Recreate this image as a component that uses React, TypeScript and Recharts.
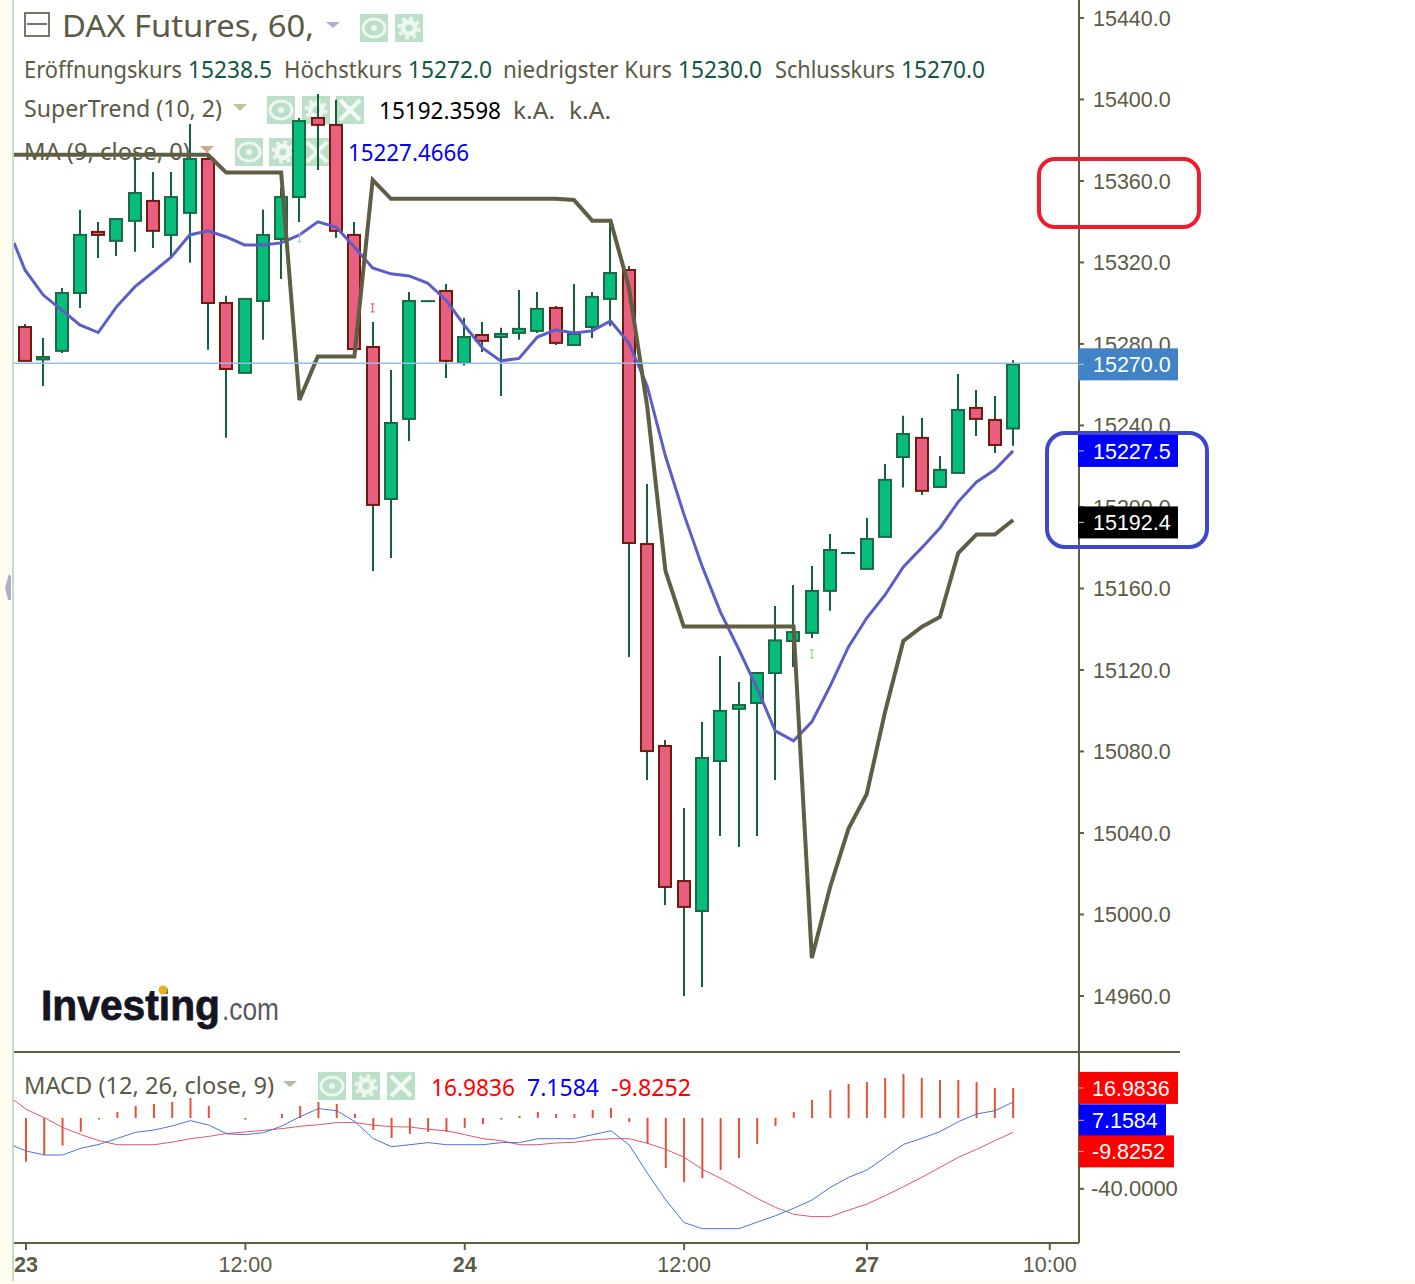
import {
  Bar,
  ComposedChart,
  Line,
  ReferenceDot,
  ReferenceLine,
  XAxis,
  YAxis,
} from "recharts";

// ohlc, one entry per hourly candle
const opens = [15288.3, 15272.4, 15276.6, 15305, 15335, 15330.6, 15340.4, 15350.2, 15333.5, 15344.3, 15370.8, 15300.1, 15265.8, 15301.1, 15331.5, 15352.1, 15390.9, 15387.5, 15333.5, 15278.5, 15203.9, 15243.2, 15301, 15306, 15270.7, 15284.4, 15283.4, 15285.4, 15286.4, 15297.7, 15279.5, 15288.3, 15302.1, 15316.3, 15181.8, 15082.7, 15016.4, 15001.7, 15075.3, 15100.9, 15103.8, 15118.5, 15134.2, 15138.2, 15158.8, 15177.4, 15169.6, 15185.3, 15224.5, 15233.9, 15209.8, 15216.7, 15248.6, 15242.7, 15238.5];
const closes = [15271.7, 15273.6, 15305, 15333.5, 15333.5, 15341.3, 15354.1, 15335.5, 15352.1, 15370.8, 15300.1, 15267.7, 15302.1, 15333.5, 15352.1, 15389.4, 15387.5, 15335.5, 15277.5, 15201, 15241.2, 15301.1, 15301, 15271.7, 15283.4, 15281.5, 15284.9, 15287.4, 15297.2, 15280.5, 15284.9, 15303.1, 15314.8, 15182.3, 15080.2, 15013.5, 15003.7, 15076.8, 15099.9, 15102.8, 15118.5, 15134.5, 15138.6, 15158.8, 15178.9, 15177.4, 15184.3, 15213.3, 15235.8, 15207.9, 15218.2, 15247.6, 15243.2, 15230.4, 15270];
const highs = [15289.8, 15282.9, 15307.5, 15345.8, 15339.9, 15341.8, 15371.8, 15364.4, 15364.4, 15388, 15371.8, 15303.6, 15302.6, 15345.8, 15356.6, 15390.9, 15402.7, 15399.8, 15339.9, 15290.8, 15267.2, 15305.5, 15301.5, 15309.4, 15292.8, 15290.8, 15287.9, 15306.5, 15305.5, 15298.6, 15309.4, 15305.5, 15339.9, 15318.3, 15211.3, 15085.6, 15052.3, 15094.5, 15126.9, 15114.1, 15119, 15151.4, 15161.7, 15171, 15186.7, 15177.9, 15194.6, 15221.1, 15244.7, 15243.7, 15225, 15265.3, 15257.4, 15254.5, 15272];
const lows = [15271.7, 15259.4, 15275.6, 15297.7, 15322.2, 15323.2, 15325.2, 15327.1, 15322.7, 15319.8, 15277.1, 15233.9, 15265.6, 15282, 15311.9, 15339.9, 15365.4, 15332, 15277.1, 15168.6, 15175, 15232.4, 15300.5, 15263.3, 15269.4, 15276.1, 15254.5, 15282, 15285.4, 15279.5, 15279.5, 15282.9, 15288.8, 15126.4, 15066, 15004.7, 14960, 14964.4, 15038.5, 15033.1, 15038.5, 15066, 15121.5, 15135.7, 15149, 15176.9, 15169.6, 15185.3, 15209.6, 15205.9, 15209.8, 15216.7, 15234.8, 15226.5, 15230];

const maValues = [15316.3, 15304, 15296.7, 15289.3, 15285.6, 15298.2, 15308, 15315.3, 15322.7, 15333.5, 15335.5, 15332.5, 15328.6, 15328.6, 15329.6, 15333.5, 15339.9, 15337.4, 15327.6, 15317.3, 15314.4, 15313.4, 15309.9, 15301.6, 15289.3, 15278, 15271.7, 15272.9, 15283.4, 15286.9, 15285.4, 15286.4, 15291.3, 15280.5, 15259.4, 15225, 15196.6, 15171, 15148.5, 15130.3, 15111.2, 15090.1, 15085.2, 15094.5, 15112.1, 15131.3, 15145.5, 15156.8, 15170.6, 15179.9, 15189.7, 15202.5, 15212.3, 15218.2, 15227.5];
const superTrend = [15372.8, 15372.8, 15372.8, 15372.8, 15372.8, 15372.8, 15372.8, 15372.8, 15372.8, 15372.8, 15372.8, 15364.1, 15364.1, 15364.1, 15364.1, 15252.5, 15273.8, 15273.8, 15273.8, 15360.5, 15351.2, 15351.2, 15351.2, 15351.2, 15351.2, 15351.2, 15351.2, 15351.2, 15351.2, 15351.2, 15350.7, 15340.5, 15340.5, 15308, 15249.6, 15168.6, 15141.3, 15141.3, 15141.3, 15141.3, 15141.3, 15141.3, 15141.3, 14978.6, 15013.5, 15042, 15059.1, 15099.4, 15134.2, 15141.1, 15146, 15177.4, 15186.5, 15186.5, 15193.6];

const histogram = [-24.7, -20.9, -15.6, -7.7, -0.9, 3.4, 6.8, 7.9, 9, 11.3, 6.8, 0, -0.9, 0, 2.3, 6.8, 9, 7.9, 2.3, -6.8, -11.3, -9, -7.9, -7.9, -5.6, -3.4, -0.9, 1.1, 3.4, 2.3, 2.3, 4.5, 5.6, -2.3, -14.7, -28.2, -36.2, -33.9, -29.4, -22.6, -14.7, -4.5, 3.4, 10.2, 15.8, 19.2, 20.3, 22.6, 24.9, 22.6, 21.5, 21.5, 20.3, 17, 17];
const macdLine = [-18.6, -20.9, -20.9, -17.1, -14.9, -11.5, -8.1, -6.8, -4.5, -1.5, -4, -9, -9.4, -8.3, -4.5, 0.8, 5.3, 4.1, -2.1, -11.7, -16.2, -15.1, -13.9, -15.1, -15.1, -15.1, -13.9, -13.9, -11.7, -11.7, -11.7, -9.4, -7.2, -15.3, -31.3, -46.3, -59.1, -62.5, -62.5, -62.5, -58.8, -55.2, -51, -46.3, -39.2, -33.5, -29.4, -22.2, -14.9, -11.5, -7.7, -2.1, 2.3, 4.1, 9];
const signalLine = [4.9, 0.2, -5.3, -9.4, -12.8, -15.1, -15.1, -15.1, -13.6, -11.7, -10.4, -8.7, -7.9, -7, -6, -4.7, -3.8, -2.6, -2.6, -4.1, -4.9, -5.1, -6.4, -7.2, -9.4, -11.7, -12.8, -15.1, -15.1, -14.1, -13.7, -12.4, -11.7, -11.7, -14.3, -17.7, -22.2, -29, -34.1, -39.7, -45.4, -50.5, -54.4, -55.7, -55.7, -52, -48.6, -43.9, -38.8, -33.5, -27.9, -22.2, -17.7, -12.8, -8.1];

const priceTicks = [15440, 15400, 15360, 15320, 15280, 15240, 15200, 15160, 15120, 15080, 15040, 15000, 14960];
const priceTags = [
  { value: 15270, text: "15270.0", fill: "#4183c4" },
  { value: 15227.5, text: "15227.5", fill: "#0000ff" },
  { value: 15192.4, text: "15192.4", fill: "#000000" },
];
const macdTags = [
  { value: 16.9836, text: "16.9836", fill: "#ff0000", width: 99, shift: 0 },
  { value: 7.1584, text: "7.1584", fill: "#0000ff", width: 87, shift: 15 },
  { value: -9.8252, text: "-9.8252", fill: "#ff0000", width: 95, shift: 16 },
];
const timeTicks = [0, 12, 24, 36, 46, 56];
const timeLabels = ["23", "12:00", "24", "12:00", "27", "10:00"];
const boldLabels = ["23", "24", "27"];
const signals = [
  { x: 15, y: 15332, color: "#8fd4c0" },
  { x: 19, y: 15297.7, color: "#e0506e" },
  { x: 43, y: 15127.9, color: "#6fdc80" },
];

// left edge of the panel, lines run in from candles that are off screen
const leadX = -0.6;
const leadMa = 15329.6;
const leadSuper = 15372.8;
const leadMacd = -15.8;
const leadSignal = 10.2;

const priceData = [
  { x: leadX, ma: leadMa, st: leadSuper },
  ...opens.map((open, i) => ({
    x: i,
    open,
    close: closes[i],
    high: highs[i],
    low: lows[i],
    range: [lows[i], highs[i]],
    ma: maValues[i],
    st: superTrend[i],
  })),
];

const macdData = [
  { x: leadX - 0.06, macd: leadMacd, signal: leadSignal },
  ...histogram.map((hist, i) => ({ x: i, hist, macd: macdLine[i], signal: signalLine[i] })),
];

const AXIS_COLOR = "#5f5d43";
const TEXT_COLOR = "#5b5a45";
const AXIS_FONT = "'Liberation Sans', Arial, sans-serif";
const LEGEND_FONT = "'Noto Sans', sans-serif";
const AXIS_X = 1079;

function Candle(props: any) {
  const { x, y, width, height, payload } = props;
  if (payload == null || payload.high == null) return null;
  const mid = Math.floor(x + width / 2);
  const unit = height / (payload.high - payload.low);
  const toY = (v: number) => y + (payload.high - v) * unit;
  const up = payload.close >= payload.open;
  const top = toY(Math.max(payload.open, payload.close));
  const bottom = toY(Math.min(payload.open, payload.close));
  const wick = "#14603c";
  if (payload.open === payload.close) {
    return <line x1={mid - 7} x2={mid + 7} y1={top} y2={top} stroke={wick} strokeWidth={2} />;
  }
  return (
    <g>
      <line x1={mid} x2={mid} y1={y} y2={y + height} stroke={wick} strokeWidth={2} />
      <rect
        x={mid - 6}
        y={top}
        width={12}
        height={Math.max(bottom - top, 1)}
        fill={up ? "#07bd7b" : "#e85f7f"}
        stroke={up ? "#1a6a45" : "#6f1c0c"}
        strokeWidth={2}
      />
    </g>
  );
}

function PriceTick({ y, payload }: any) {
  const tag = priceTags.find((t) => t.value === payload.value);
  if (tag) {
    return (
      <g>
        <rect x={AXIS_X - 1} y={y - 16} width={100} height={32} fill={tag.fill} />
        <line x1={AXIS_X} x2={AXIS_X + 5} y1={y} y2={y} stroke="#cfcfcf" strokeWidth={1} />
        <text x={1093} y={y + 8} fontSize={21.5} fontFamily={AXIS_FONT} fill="#ffffff">
          {tag.text}
        </text>
      </g>
    );
  }
  return (
    <g>
      <line x1={AXIS_X} x2={AXIS_X + 5} y1={y} y2={y} stroke={AXIS_COLOR} strokeWidth={2} />
      <text x={1093} y={y + 8} fontSize={21.5} fontFamily={AXIS_FONT} fill={TEXT_COLOR}>
        {payload.value.toFixed(1)}
      </text>
    </g>
  );
}

function MacdTick({ y, payload }: any) {
  const tag = macdTags.find((t) => t.value === payload.value);
  if (tag) {
    const cy = y + tag.shift;
    return (
      <g>
        <rect x={AXIS_X} y={cy - 16} width={tag.width} height={32} fill={tag.fill} />
        <line x1={AXIS_X} x2={AXIS_X + 5} y1={cy} y2={cy} stroke="#ffb0a0" strokeWidth={1} />
        <text x={1092} y={cy + 8} fontSize={21.5} fontFamily={AXIS_FONT} fill="#ffffff">
          {tag.text}
        </text>
      </g>
    );
  }
  return (
    <g>
      <line x1={AXIS_X} x2={AXIS_X + 5} y1={y} y2={y} stroke={AXIS_COLOR} strokeWidth={2} />
      <text x={1091} y={y + 7} fontSize={22} fontFamily={AXIS_FONT} fill={TEXT_COLOR}>
        {payload.value.toFixed(4)}
      </text>
    </g>
  );
}

function TimeTick({ x, payload }: any) {
  const label = timeLabels[timeTicks.indexOf(payload.value)];
  return (
    <g>
      <line x1={x} x2={x} y1={190} y2={197} stroke={AXIS_COLOR} strokeWidth={2} />
      <text
        x={label === "23" ? 26 : x}
        y={219}
        textAnchor="middle"
        fontSize={21.5}
        fontFamily={AXIS_FONT}
        fontWeight={boldLabels.includes(label) ? 700 : 400}
        fill={TEXT_COLOR}
      >
        {label}
      </text>
    </g>
  );
}

function SignalMark({ cx, cy, color }: any) {
  return (
    <g stroke={color} strokeWidth={1}>
      <line x1={cx} x2={cx} y1={cy - 4} y2={cy + 4} />
      <line x1={cx - 2} x2={cx + 2} y1={cy - 4} y2={cy - 4} />
      <line x1={cx - 2} x2={cx + 2} y1={cy + 4} y2={cy + 4} />
    </g>
  );
}

function ToolIcon({ x, y, kind }: { x: number; y: number; kind: string }) {
  const cx = x + 14;
  const cy = y + 14;
  return (
    <g>
      <rect x={x} y={y} width={28} height={28} fill="#bcdfc8" />
      {kind === "eye" && (
        <g>
          <ellipse cx={cx} cy={cy} rx={11} ry={9} fill="none" stroke="#eef6f0" strokeWidth={3} />
          <circle cx={cx} cy={cy} r={3} fill="#eef6f0" />
        </g>
      )}
      {kind === "gear" && (
        <g>
          <circle cx={cx} cy={cy} r={6} fill="none" stroke="#eef6f0" strokeWidth={5} />
          <circle cx={cx} cy={cy} r={10} fill="none" stroke="#eef6f0" strokeWidth={3} strokeDasharray="4 3.85" />
        </g>
      )}
      {kind === "close" && (
        <g stroke="#f4faf6" strokeWidth={4}>
          <line x1={x + 4} x2={x + 24} y1={y + 4} y2={y + 24} />
          <line x1={x + 24} x2={x + 4} y1={y + 4} y2={y + 24} />
        </g>
      )}
    </g>
  );
}

function Label(props: { x: number; y: number; w: number; size?: number; color?: string; children: string }) {
  const { x, y, w, size = 23, color = TEXT_COLOR, children } = props;
  return (
    <text x={x} y={y} fontSize={size} fill={color} textLength={w} lengthAdjust="spacingAndGlyphs" fontFamily={LEGEND_FONT}>
      {children}
    </text>
  );
}

function Legend() {
  const value = "#12583f";
  return (
    <svg width={1415} height={1284} style={{ position: "absolute", left: 0, top: 0 }}>
      <rect x={0} y={0} width={12} height={1284} fill="#fffdf0" />
      <rect x={12} y={0} width={2} height={1284} fill="#c6dcc6" />
      <rect x={0} y={1281} width={1415} height={3} fill="#fffdf0" />
      <polygon points="9,574 5,588 8,600 11,600 11,576" fill="#b9a9c9" />

      <rect x={25} y={13} width={24} height={23} fill="none" stroke="#77776a" strokeWidth={2} />
      <line x1={27} x2={47} y1={24} y2={24} stroke="#77776a" strokeWidth={2} />
      <Label x={62} y={37} w={252} size={31}>DAX Futures, 60,</Label>
      <polygon points="326,22 340,22 333,28" fill="#b4acc8" />
      <ToolIcon x={360} y={14} kind="eye" />
      <ToolIcon x={395} y={14} kind="gear" />

      <Label x={24} y={78} w={158}>Eröffnungskurs</Label>
      <Label x={188} y={78} w={84} color={value}>15238.5</Label>
      <Label x={284} y={78} w={118}>Höchstkurs</Label>
      <Label x={408} y={78} w={84} color={value}>15272.0</Label>
      <Label x={503} y={78} w={169}>niedrigster Kurs</Label>
      <Label x={678} y={78} w={84} color={value}>15230.0</Label>
      <Label x={775} y={78} w={120}>Schlusskurs</Label>
      <Label x={901} y={78} w={84} color={value}>15270.0</Label>

      <Label x={24} y={117} w={198}>SuperTrend (10, 2)</Label>
      <polygon points="233,104 247,104 240,111" fill="#c4c49c" />
      <ToolIcon x={267} y={96} kind="eye" />
      <ToolIcon x={302} y={96} kind="gear" />
      <ToolIcon x={336} y={96} kind="close" />
      <Label x={379} y={119} w={122} color="#000000">15192.3598</Label>
      <Label x={513} y={119} w={42}>k.A.</Label>
      <Label x={569} y={119} w={42}>k.A.</Label>

      <Label x={24} y={160} w={166}>MA (9, close, 0)</Label>
      <polygon points="200,146 214,146 207,153" fill="#cdaa8c" />
      <ToolIcon x={235} y={138} kind="eye" />
      <ToolIcon x={269} y={138} kind="gear" />
      <ToolIcon x={303} y={138} kind="close" />
      <Label x={348} y={161} w={121} color="#0000ff">15227.4666</Label>

      <Label x={24} y={1094} w={250}>MACD (12, 26, close, 9)</Label>
      <polygon points="283,1081 297,1081 290,1087" fill="#b8b8ac" />
      <ToolIcon x={318} y={1072} kind="eye" />
      <ToolIcon x={352} y={1072} kind="gear" />
      <ToolIcon x={387} y={1072} kind="close" />
      <Label x={431} y={1096} w={84} color="#ff0000">16.9836</Label>
      <Label x={527} y={1096} w={72} color="#0000ff">7.1584</Label>
      <Label x={611} y={1096} w={80} color="#ff0000">-9.8252</Label>

      <text x={41} y={1020} fontSize={43} fontWeight={700} fontFamily={AXIS_FONT} fill="#15151f" stroke="#15151f" strokeWidth={0.8} textLength={179} lengthAdjust="spacingAndGlyphs">
        Investing
      </text>
      <circle cx={163} cy={990} r={4.5} fill="#e8b020" />
      <text x={222} y={1020} fontSize={31} fontFamily={AXIS_FONT} fill="#5a5a5e" textLength={57} lengthAdjust="spacingAndGlyphs">
        .com
      </text>
    </svg>
  );
}

export default function App() {
  return (
    <div style={{ position: "absolute", left: 0, top: 0, width: 1415, height: 1284, background: "#ffffff", overflow: "hidden" }}>
      <Legend />

      <div style={{ position: "absolute", left: 0, top: 0 }}>
        <ComposedChart
          width={1415}
          height={1053}
          data={priceData}
          margin={{ top: 0, right: 236, bottom: 1, left: 14 }}
        >
          <XAxis dataKey="x" type="number" domain={[-0.6, 57.6]} hide allowDataOverflow />
          <YAxis
            orientation="right"
            type="number"
            width={100}
            domain={[14932.5, 15448.8]}
            allowDataOverflow
            ticks={[...priceTicks, ...priceTags.map((t) => t.value)]}
            interval={0}
            tick={<PriceTick />}
            tickLine={false}
            axisLine={{ stroke: AXIS_COLOR, strokeWidth: 2 }}
          />
          <Line dataKey="ma" type="linear" stroke="#5d5dc6" strokeWidth={3} dot={false} isAnimationActive={false} />
          <Line dataKey="st" type="linear" stroke="#5f5d43" strokeWidth={4} dot={false} isAnimationActive={false} />
          <Bar dataKey="range" barSize={14} shape={<Candle />} isAnimationActive={false} />
          <ReferenceLine y={15270.5} stroke="#96bde8" strokeWidth={1.5} />
          {signals.map((s) => (
            <ReferenceDot
              key={s.x}
              x={s.x}
              y={s.y}
              r={1}
              shape={(p: any) => <SignalMark {...p} color={s.color} />}
            />
          ))}
        </ComposedChart>
      </div>

      <div style={{ position: "absolute", left: 0, top: 1053 }}>
        <ComposedChart
          width={1415}
          height={231}
          data={macdData}
          margin={{ top: 0, right: 236, bottom: 0, left: 14 }}
        >
          <XAxis
            dataKey="x"
            type="number"
            height={41}
            domain={[-0.656, 57.6]}
            allowDataOverflow
            ticks={timeTicks}
            interval={0}
            tick={<TimeTick />}
            tickLine={false}
            axisLine={{ stroke: AXIS_COLOR, strokeWidth: 2 }}
          />
          <YAxis
            orientation="right"
            type="number"
            width={100}
            domain={[-70.6, 36.7]}
            allowDataOverflow
            ticks={[-40, ...macdTags.map((t) => t.value)]}
            interval={0}
            tick={<MacdTick />}
            tickLine={false}
            axisLine={{ stroke: AXIS_COLOR, strokeWidth: 2 }}
          />
          <Bar dataKey="hist" barSize={2} fill="#e25238" isAnimationActive={false} />
          <Line dataKey="signal" type="linear" stroke="#e0566e" strokeWidth={1} dot={false} isAnimationActive={false} />
          <Line dataKey="macd" type="linear" stroke="#4a72d8" strokeWidth={1} dot={false} isAnimationActive={false} />
        </ComposedChart>
      </div>

      <div style={{ position: "absolute", left: 14, top: 1051, width: 1166, height: 2, background: AXIS_COLOR }} />
      <div style={{ position: "absolute", left: 1037, top: 157, width: 164, height: 72, boxSizing: "border-box", border: "4px solid #ee1c2c", borderRadius: 18 }} />
      <div style={{ position: "absolute", left: 1045, top: 431, width: 164, height: 118, boxSizing: "border-box", border: "4px solid #3f48cc", borderRadius: 20 }} />
    </div>
  );
}
